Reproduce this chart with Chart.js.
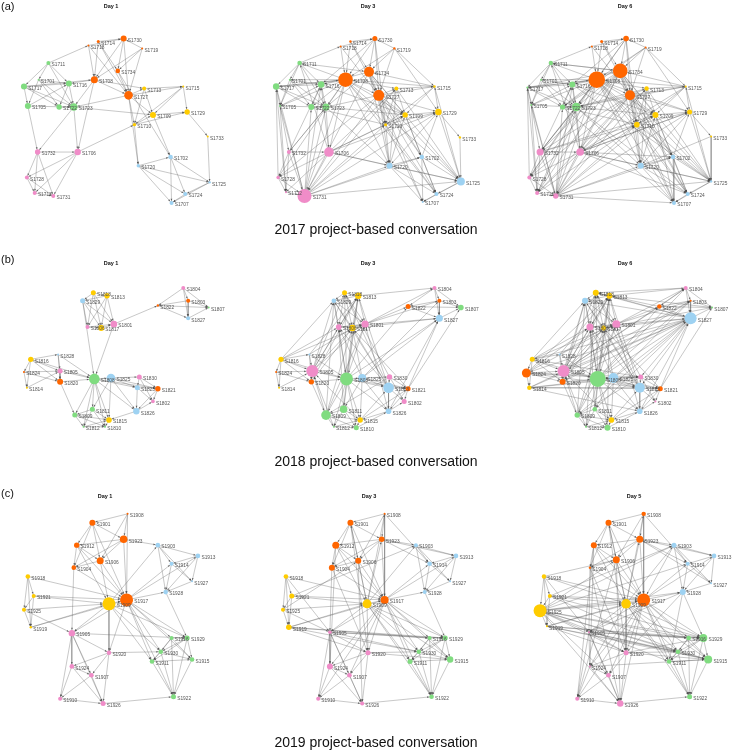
<!DOCTYPE html>
<html>
<head>
<meta charset="utf-8">
<script src="https://cdn.jsdelivr.net/npm/chart.js@4.4.1/dist/chart.umd.min.js"></script>
<style>
  html, body { margin: 0; padding: 0; background: #fff; }
  #wrap { position: relative; width: 738px; height: 750px; }
</style>
</head>
<body>
<div id="wrap"><canvas id="net" width="738" height="750"></canvas></div>
<script>
// small helper: whitespace separated list -> array
const list = s => s.trim().split(/\s+/);

// ---------- 2017 ----------
const names2017 = list('30 14 18 19 34 08 27 11 01 17 16 05 22 23 13 15 09 29 10 33 32 06 28 12 31 02 20 25 24 07');
const groups2017 = list('o o o o o o o g g g g g g g y y y y y y p p p p p b b b b b');

const x2017day1 = [118, 92, 82, 137, 112, 88, 123, 41, 31, 16, 62, 20, 52, 67, 139, 179, 148, 183, 129, 204, 30, 71, 19, 27, 46, 166, 133, 206, 181, 167];
const y2017day1 = [31, 34, 38, 41, 64, 73, 89, 56, 73, 80, 77, 100, 101, 101, 82, 80, 109, 106, 119, 131, 147, 147, 173, 189, 192, 152, 161, 178, 190, 199];
const r2017day1 = [3, 1.5, 1, 1, 2.3, 3.5, 4.3, 2, 1, 3, 3, 3, 2.7, 3.7, 2, 1, 3, 2.7, 1.7, 1, 2.7, 3.2, 2, 2, 2, 2.3, 1.7, 1.2, 2, 2];

const x2017day3 = [375, 350, 340, 395, 369, 345, 379, 298, 288, 274, 320, 278, 310, 325, 397, 436, 406, 440, 386, 462, 287, 328, 276, 284, 303, 423, 390, 463, 438, 424];
const y2017day3 = [31, 34, 39, 41, 65, 73, 89, 56, 73, 80, 78, 100, 101, 101, 82, 80, 109, 106, 119, 132, 147, 147, 173, 188, 192, 152, 161, 177, 190, 198];
const r2017day3 = [2.5, 1.2, 1, 1.2, 5, 7.3, 5.5, 2.3, 1, 3.2, 3.3, 1, 3, 3.5, 2, 1.2, 2.7, 3.2, 1.5, 1.2, 2, 4.8, 1.7, 1, 7, 2.3, 3, 4, 2, 1];

const x2017day6 = [632, 607, 597, 652, 626, 602, 636, 555, 545, 531, 577, 535, 567, 581, 653, 693, 662, 697, 643, 719, 544, 585, 533, 541, 560, 680, 647, 719, 695, 681];
const y2017day6 = [31, 34, 39, 40, 64, 73, 89, 56, 73, 81, 78, 99, 101, 101, 82, 80, 109, 106, 119, 131, 147, 147, 173, 189, 192, 152, 161, 177, 190, 199];
const r2017day6 = [2.8, 1.5, 1, 1, 7.3, 8.3, 5, 2.2, 1, 1, 3, 1, 2.6, 4.3, 2.2, 1, 3, 2.5, 2.8, 1, 3.5, 3.8, 2, 2, 2.7, 2.2, 3, 1.2, 2, 2];

const edges2017day1 = list(`
  18-30 14-30 18-08 14-08 30-08 30-34 30-27 19-30 19-34 19-08 14-27 18-27 34-27 08-27 14-34 11-18
  08-16 08-23 08-06 27-20 27-10 27-13 27-09 27-23 34-02 27-15 08-13 19-27 17-08
  11-01 11-16 11-23 11-17 17-16 17-05 17-22 17-23 01-16 01-22 01-05 16-22 16-23 05-23 05-16 22-23
  05-32 23-32 23-06 23-09 01-23
  13-15 13-09 13-10 15-29 15-09 15-10 09-29 10-29 29-33 33-25 10-09 10-20
  32-06 32-28 32-12 32-31 06-28 06-12 06-31 28-12 28-31 12-31 06-10
  20-02 20-07 20-24 02-24 02-07 02-25 25-24 25-07 24-07 09-02 20-25`);
const edges2017day3add = list(`
  08-22 08-05 08-17 08-01 08-11 08-09 08-10 08-31 08-28 08-25 34-25 34-10 34-23 34-16 27-31 27-25
  27-24 31-25 31-20 31-02 31-16 31-17 31-23 31-22 31-05 06-25 06-16 06-11 20-09 29-25 15-34 15-08
  13-20 10-24 09-24 29-20 17-12 11-34 30-16 30-10 19-15 19-29 27-07 10-07 32-16 32-23 28-17 06-20
  23-20 13-25 34-09 27-29 16-09 22-10
  31-29 31-09 31-10 31-13 08-20 08-24 34-20 34-31 27-28 27-02 05-12 11-05 06-09 06-13 06-29 02-29 25-15`);
const edges2017day6add = list(`
  34-11 34-17 34-22 34-32 34-06 34-24 08-32 08-12 08-02 08-07 27-32 27-06 27-12 23-28 23-12 06-02
  06-24 32-10 32-09 31-07 15-06 15-23 33-20 29-06 13-23 10-25 09-07 12-10 30-23 19-22
  34-28 34-12 08-29 23-24 16-25 22-07`);

// ---------- 2018 ----------
const names2018 = list('04 03 22 07 27 18 13 29 06 17 01 16 28 24 14 05 20 08 25 30 23 21 02 26 11 09 15 12 10');
const groups2018 = list('p o o g b y y b p y p y b o y p o g b p b o p b g g y g g');

const x2018day1 = [179, 184, 153, 205, 184, 87, 101, 76, 81, 95, 108, 23, 51, 16, 19, 53, 53, 88, 105, 134, 132, 153, 148, 131, 86, 68, 103, 77, 99];
const y2018day1 = [286, 299, 304, 306, 317, 291, 294, 299, 326, 327, 323, 359, 354, 372, 388, 371, 382, 379, 378, 377, 388, 389, 402, 412, 410, 416, 421, 428, 428];
const r2018day1 = [2, 2, 1.2, 1, 2, 2.5, 2.7, 2.5, 2, 3, 3.3, 2.7, 1, 1, 1, 2.5, 3, 5.3, 4.3, 2.5, 2.5, 2.7, 1.8, 3.2, 2.5, 2.5, 2.8, 1, 1];

const x2018day3 = [436, 441, 409, 463, 441, 344, 358, 333, 338, 352, 365, 279, 308, 274, 277, 311, 310, 346, 362, 390, 389, 409, 405, 389, 343, 325, 360, 333, 356];
const y2018day3 = [286, 299, 305, 306, 317, 291, 294, 299, 326, 327, 323, 359, 354, 372, 388, 371, 382, 379, 378, 377, 388, 389, 402, 412, 410, 416, 421, 428, 429];
const r2018day3 = [2, 2, 2.5, 2.8, 3.5, 2.5, 3.2, 2.3, 2.8, 3.2, 3.6, 2.6, 1, 1, 1, 6, 2.7, 6.5, 4, 2.7, 5.3, 2.5, 2.5, 2.8, 3.8, 4.8, 2.7, 1, 2.5];

const x2018day6 = [693, 698, 666, 720, 698, 601, 615, 590, 595, 609, 622, 536, 564, 530, 533, 568, 567, 603, 619, 647, 646, 667, 662, 646, 600, 582, 617, 591, 613];
const y2018day6 = [286, 299, 305, 306, 317, 291, 294, 299, 326, 327, 323, 359, 354, 373, 388, 371, 382, 379, 378, 377, 388, 389, 402, 412, 410, 416, 421, 428, 429];
const r2018day6 = [2, 1, 2.2, 1, 6, 3, 3, 3, 3.5, 2.5, 4, 2.5, 1, 4.5, 2.2, 6, 3, 8, 5, 2.5, 5, 2.5, 1, 2.8, 2.3, 2.7, 2.8, 1, 3];

const edges2018day1 = list(`
  04-03 04-22 04-07 03-22 03-07 03-27 22-27 22-07 27-07 04-27 01-22
  18-13 18-29 18-06 18-17 18-01 13-29 13-06 13-17 13-01 29-06 29-17 29-01 06-17 17-01 06-01 29-08 01-08
  16-28 16-24 16-05 16-20 16-14 28-05 28-20 24-05 24-20 24-14 14-05 05-20 05-08 20-08 28-08 16-08 20-09
  08-25 08-11 08-09 08-15 08-12 08-10 08-26 25-30 25-23 25-21 25-26 25-11 25-15 30-23 30-21 30-02
  23-21 23-02 23-26 21-02 21-26 26-02 26-15 08-23 08-21
  11-09 11-15 11-12 11-10 09-15 09-12 09-10 12-10 15-10 12-15`);
const edges2018day3add = list(`
  05-13 05-18 05-29 05-01 05-06 05-17 08-13 08-18 08-17 08-06 08-27 08-22 25-27 25-03 25-06 25-17
  23-13 23-18 23-29 23-06 23-17 21-27 21-17 26-27 26-01 01-03 01-04 13-04 17-27 06-27 28-13 28-17
  16-06 16-29 16-01 20-17 20-13 09-05 09-29 09-01 09-17 11-06 11-13 15-23 15-21 15-05 10-26 12-05
  30-09 30-18 21-07`);
const edges2018day6add = list(`
  27-05 27-29 27-18 27-13 27-24 27-16 27-20 27-11 27-09 27-30 27-23 07-13 07-17 04-18 22-18 24-13
  24-06 24-25 24-30 24-23 24-01 14-25 14-30 14-23 14-21 14-26 16-30 20-29 10-13 12-18
  05-03 05-04 05-22 08-04 08-03 20-03 14-27`);

// ---------- 2019 ----------
const names2019 = list('08 01 23 12 06 04 17 03 13 14 27 28 09 18 21 25 19 05 20 24 07 10 26 16 29 30 11 15 22');
const groups2019 = list('o o o o o o o b b b b b y y y y y p p p p p p g g g g g g');

const x2019day1 = [122, 86, 118, 70, 94, 67, 121, 153, 194, 167, 188, 161, 103, 20, 26, 16, 23, 65, 103, 65, 85, 53, 97, 167, 183, 156, 147, 188, 169];
const y2019day1 = [517, 526, 543, 549, 565, 572, 605, 549, 560, 568, 586, 597, 609, 581, 601, 615, 633, 639, 659, 673, 682, 706, 711, 644, 644, 658, 668, 666, 704];
const r2019day1 = [1, 3, 3.8, 2.7, 3.5, 2.3, 6.5, 2.3, 2.3, 2, 1, 2.3, 6.5, 2.3, 2, 2, 1.2, 3.2, 2.2, 2.3, 2.3, 2, 2.5, 2, 2.5, 2.3, 2.3, 2.3, 2.5];

const x2019day3 = [385, 350, 382, 335, 358, 331, 385, 417, 458, 431, 452, 426, 367, 284, 290, 281, 287, 329, 368, 329, 349, 317, 362, 431, 447, 420, 411, 452, 433];
const y2019day3 = [517, 526, 543, 549, 565, 572, 605, 549, 560, 568, 586, 597, 609, 581, 601, 615, 633, 638, 659, 673, 682, 706, 711, 644, 644, 658, 668, 666, 704];
const r2019day3 = [1, 3, 2.8, 3.5, 3, 3, 4, 2, 2.3, 2.3, 1, 2, 4.5, 2.3, 2.5, 2, 2.8, 1.8, 2.5, 3, 2.3, 2, 2, 2, 2.5, 2.3, 2.5, 3.2, 2.3];

const x2019day5 = [650, 614, 646, 599, 622, 595, 650, 681, 722, 695, 719, 690, 632, 548, 554, 544, 551, 594, 632, 595, 614, 582, 626, 696, 711, 685, 676, 716, 697];
const y2019day5 = [517, 526, 543, 549, 564, 572, 605, 549, 560, 568, 588, 597, 609, 581, 601, 616, 632, 638, 659, 673, 682, 706, 711, 644, 644, 658, 668, 666, 704];
const r2019day5 = [2.2, 3, 3.5, 3, 3.5, 1.2, 6.5, 2.5, 2.3, 2, 1, 3, 4.8, 2.2, 2, 6.5, 1, 1, 2.5, 1, 2.3, 2, 3.2, 2.3, 4, 2.3, 2.3, 4, 2.5];

const edges2019day1 = list(`
  08-01 08-23 08-06 08-17 01-23 01-12 01-06 01-04 01-17 23-12 23-06 23-04 23-17 23-03 12-06 12-04
  12-17 06-04 06-17 04-17 04-05 12-09 06-09
  03-13 03-14 03-27 03-28 13-14 13-27 13-28 14-27 14-28 27-28 17-14 17-13 28-29 09-03 17-28
  18-21 18-25 18-19 21-25 21-19 25-19 18-17 21-09 25-09 19-09 21-17 19-17 25-05
  09-17 09-05 17-05 09-20 17-20 09-30 17-30 17-16 17-29 17-11 17-15 09-11 17-22 09-29
  05-20 05-24 05-07 05-10 05-26 20-24 20-07 20-26 24-07 24-10 24-26 07-10 07-26 10-26 26-22 05-29 20-30
  16-29 16-30 16-11 16-15 16-22 29-30 29-11 29-15 29-22 30-11 30-15 30-22 11-15 11-22 15-22`);
const edges2019day3add = list(`
  09-08 09-01 09-23 19-16 19-30 19-29 19-20 18-05 21-03 25-06 05-16 05-30 23-14 08-14 04-20 12-24
  06-26 17-24 17-07 17-10 09-22 09-15 20-15 01-20 23-13`);
const edges2019day5add = list(`
  25-17 25-16 25-29 25-30 25-15 25-11 25-28 25-03 25-14 25-20 25-07 25-26 18-09 18-06 21-29 21-30
  19-15 28-05 28-20 28-11 03-17 27-23 17-26 09-24 05-15 20-29 06-10 12-10 04-26 24-15`);

// ---------- text ----------
const panelLetters = ['(a)', '(b)', '(c)'];
const dayTitles = [['Day 1', 'Day 3', 'Day 6'], ['Day 1', 'Day 3', 'Day 6'], ['Day 1', 'Day 3', 'Day 5']];
const captions = ['2017 project-based conversation', '2018 project-based conversation', '2019 project-based conversation'];

// ---------- styling / layout ----------
const colours = { o: '#FF6600', g: '#80DC80', y: '#FFCC00', p: '#F08CC8', b: '#9ED2F2' };
const rowTitleY = [6, 263, 496];
const colTitleX = [[111, 368, 625], [111, 368, 625], [105, 369, 634]];
const letterY = [7, 260, 494];
const captionY = [230, 462, 743];

function panel(prefix, names, groups, xs, ys, rs, edges) {
  const pos = {};
  names.forEach((n, i) => { pos[n] = { x: xs[i], y: ys[i], r: rs[i] }; });
  return { prefix, names, groups, pos, edges: edges.map(e => e.split('-')) };
}

const edges2017day3 = edges2017day1.concat(edges2017day3add);
const edges2018day3 = edges2018day1.concat(edges2018day3add);
const edges2019day3 = edges2019day1.concat(edges2019day3add);

const panels = [
  panel('S17', names2017, groups2017, x2017day1, y2017day1, r2017day1, edges2017day1),
  panel('S17', names2017, groups2017, x2017day3, y2017day3, r2017day3, edges2017day3),
  panel('S17', names2017, groups2017, x2017day6, y2017day6, r2017day6, edges2017day3.concat(edges2017day6add)),
  panel('S18', names2018, groups2018, x2018day1, y2018day1, r2018day1, edges2018day1),
  panel('S18', names2018, groups2018, x2018day3, y2018day3, r2018day3, edges2018day3),
  panel('S18', names2018, groups2018, x2018day6, y2018day6, r2018day6, edges2018day3.concat(edges2018day6add)),
  panel('S19', names2019, groups2019, x2019day1, y2019day1, r2019day1, edges2019day1),
  panel('S19', names2019, groups2019, x2019day3, y2019day3, r2019day3, edges2019day3),
  panel('S19', names2019, groups2019, x2019day5, y2019day5, r2019day5, edges2019day3.concat(edges2019day5add)),
];

const datasets = [];
// nodes (drawn on top)
panels.forEach(p => {
  datasets.push({
    type: 'bubble',
    data: p.names.map(n => ({ x: p.pos[n].x, y: p.pos[n].y, r: p.pos[n].r })),
    backgroundColor: p.groups.map(g => colours[g]),
    borderWidth: 0,
    order: 0,
  });
});
// edges, one broken line per panel
panels.forEach(p => {
  const pts = [];
  p.edges.forEach(([a, b]) => {
    pts.push({ x: p.pos[a].x, y: p.pos[a].y }, { x: p.pos[b].x, y: p.pos[b].y }, { x: null, y: null });
  });
  datasets.push({
    type: 'line',
    data: pts,
    borderColor: 'rgba(85,85,85,0.6)',
    borderWidth: 0.55,
    pointRadius: 0,
    fill: false,
    spanGaps: false,
    tension: 0,
    order: 1,
  });
});

// arrow heads, node labels and titles
const netPlugin = {
  id: 'net',
  beforeDatasetsDraw(chart) {
    const { ctx, scales: { x, y } } = chart;
    ctx.save();
    ctx.fillStyle = 'rgba(60,60,60,0.8)';
    panels.forEach(p => {
      p.edges.forEach(([a, b]) => {
        const ax = x.getPixelForValue(p.pos[a].x), ay = y.getPixelForValue(p.pos[a].y);
        const bx = x.getPixelForValue(p.pos[b].x), by = y.getPixelForValue(p.pos[b].y);
        const len = Math.hypot(bx - ax, by - ay) || 1;
        const ux = (bx - ax) / len, uy = (by - ay) / len;
        const tx = bx - ux * p.pos[b].r, ty = by - uy * p.pos[b].r;
        ctx.beginPath();
        ctx.moveTo(tx, ty);
        ctx.lineTo(tx - ux * 2.2 - uy * 0.9, ty - uy * 2.2 + ux * 0.9);
        ctx.lineTo(tx - ux * 2.2 + uy * 0.9, ty - uy * 2.2 - ux * 0.9);
        ctx.closePath();
        ctx.fill();
      });
    });
    ctx.restore();
  },
  afterDatasetsDraw(chart) {
    const { ctx, scales: { x, y } } = chart;
    ctx.save();
    ctx.font = '4.8px "Liberation Sans", Arial, sans-serif';
    ctx.fillStyle = '#555';
    ctx.textBaseline = 'middle';
    ctx.textAlign = 'left';
    panels.forEach(p => {
      p.names.forEach(n => {
        const q = p.pos[n];
        ctx.fillText(p.prefix + n, x.getPixelForValue(q.x) + q.r + 1.2, y.getPixelForValue(q.y) + 2);
      });
    });

    ctx.fillStyle = '#111';
    ctx.textAlign = 'center';
    ctx.font = 'bold 5.5px "Liberation Sans", Arial, sans-serif';
    dayTitles.forEach((row, i) => row.forEach((t, j) => ctx.fillText(t, colTitleX[i][j], rowTitleY[i])));

    ctx.font = '14px "Liberation Sans", Arial, sans-serif';
    captions.forEach((t, i) => ctx.fillText(t, 376, captionY[i]));

    ctx.textAlign = 'left';
    ctx.font = '11px "Liberation Sans", Arial, sans-serif';
    panelLetters.forEach((t, i) => ctx.fillText(t, 1, letterY[i]));
    ctx.restore();
  }
};

new Chart(document.getElementById('net'), {
  type: 'scatter',
  data: { datasets },
  options: {
    responsive: false,
    animation: false,
    events: [],
    layout: { padding: 0 },
    plugins: { legend: { display: false }, tooltip: { enabled: false } },
    scales: {
      x: { type: 'linear', min: 0, max: 738, display: false },
      y: { type: 'linear', min: 0, max: 750, reverse: true, display: false },
    },
  },
  plugins: [netPlugin],
});
</script>
</body>
</html>
